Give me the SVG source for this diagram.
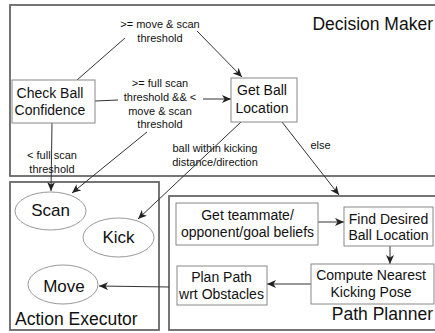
<svg xmlns="http://www.w3.org/2000/svg" width="435" height="333" viewBox="0 0 435 333">
<style>
.frame{fill:none;stroke:#666;stroke-width:1.8}
.box{fill:#fff;stroke:#888;stroke-width:1}
.ell{fill:#fff;stroke:#999;stroke-width:1}
.t{font-family:"Liberation Sans",Arial,sans-serif;fill:#111}
.node{font-size:14px;text-anchor:middle}
.act{font-size:17px;text-anchor:middle}
.title{font-size:17.5px}
.lbl{font-size:11px;text-anchor:middle}
.c{fill:none;stroke:#333;stroke-width:1}
</style>
<defs>
<marker id="ah" markerUnits="userSpaceOnUse" markerWidth="10" markerHeight="8" refX="9" refY="4" orient="auto">
<path d="M0,0 L9,4 L0,8 L2.5,4 z" fill="#222"/>
</marker>
</defs>
<rect width="435" height="333" fill="#fff"/>
<g id="decision-maker">
<rect class="frame" x="10" y="5" width="440" height="171"/>
<text class="t title" x="433" y="30" text-anchor="end">Decision Maker</text>
</g>
<g id="action-executor">
<rect class="frame" x="10" y="182" width="149" height="148"/>
<text class="t title" x="15" y="325">Action Executor</text>
</g>
<g id="path-planner">
<rect class="frame" x="169" y="196" width="280" height="134"/>
<text class="t title" x="433" y="320" text-anchor="end">Path Planner</text>
</g>
<g id="connectors">
<line class="c" x1="77" y1="80" x2="125" y2="38"/>
<line class="c" x1="197" y1="31" x2="242" y2="77" marker-end="url(#ah)"/>
<line class="c" x1="95" y1="101" x2="118" y2="100"/>
<line class="c" x1="203" y1="99" x2="231" y2="99" marker-end="url(#ah)"/>
<line class="c" x1="147" y1="132" x2="72" y2="193" marker-end="url(#ah)"/>
<line class="c" x1="52" y1="123" x2="51" y2="191" marker-end="url(#ah)"/>
<line class="c" x1="241" y1="122" x2="138" y2="219" marker-end="url(#ah)"/>
<line class="c" x1="282" y1="122" x2="339" y2="195" marker-end="url(#ah)"/>
<line class="c" x1="318" y1="222" x2="344" y2="222" marker-end="url(#ah)"/>
<line class="c" x1="390" y1="246" x2="390" y2="264" marker-end="url(#ah)"/>
<line class="c" x1="311" y1="284" x2="267" y2="284" marker-end="url(#ah)"/>
<line class="c" x1="169" y1="287" x2="99" y2="286" marker-end="url(#ah)"/>
</g>
<g id="labels">
<text class="t lbl"><tspan x="160" y="28">&gt;= move &amp; scan</tspan><tspan x="160" y="41.5">threshold</tspan></text>
<text class="t lbl"><tspan x="160" y="87">&gt;= full scan</tspan><tspan x="160" y="100.5">threshold &amp;&amp; &lt;</tspan><tspan x="160" y="114.5">move &amp; scan</tspan><tspan x="160" y="128">threshold</tspan></text>
<text class="t lbl"><tspan x="52" y="159">&lt; full scan</tspan><tspan x="52" y="173">threshold</tspan></text>
<text class="t lbl"><tspan x="215" y="151.5">ball within kicking</tspan><tspan x="215" y="166">distance/direction</tspan></text>
<text class="t lbl" x="320.5" y="149">else</text>
</g>
<g id="check-ball-confidence">
<rect class="box" x="12" y="80" width="83" height="43"/>
<text class="t node"><tspan x="50" y="98">Check Ball</tspan><tspan x="50" y="115">Confidence</tspan></text>
</g>
<g id="get-ball-location">
<rect class="box" x="231" y="78" width="66" height="44"/>
<text class="t node"><tspan x="262" y="95">Get Ball</tspan><tspan x="262" y="112.5">Location</tspan></text>
</g>
<g id="scan">
<ellipse class="ell" cx="50.5" cy="211" rx="35.5" ry="19"/>
<text class="t act" x="50.5" y="216">Scan</text>
</g>
<g id="kick">
<ellipse class="ell" cx="118.5" cy="237.5" rx="35.5" ry="19.5"/>
<text class="t act" x="118.5" y="243">Kick</text>
</g>
<g id="move">
<ellipse class="ell" cx="63" cy="284.5" rx="35" ry="19.5"/>
<text class="t act" x="64" y="291.5">Move</text>
</g>
<g id="get-beliefs">
<rect class="box" x="176" y="203" width="142" height="42"/>
<text class="t node"><tspan x="247.5" y="219.5">Get teammate/</tspan><tspan x="247.5" y="236.5">opponent/goal beliefs</tspan></text>
</g>
<g id="find-desired-ball-location">
<rect class="box" x="344" y="207" width="89" height="39"/>
<text class="t node"><tspan x="388.5" y="223.5">Find Desired</tspan><tspan x="388.5" y="239.5">Ball Location</tspan></text>
</g>
<g id="compute-kicking-pose">
<rect class="box" x="311" y="264" width="123" height="40"/>
<text class="t node"><tspan x="371" y="279.5">Compute Nearest</tspan><tspan x="371" y="296.5">Kicking Pose</tspan></text>
</g>
<g id="plan-path">
<rect class="box" x="177" y="266" width="90" height="39"/>
<text class="t node"><tspan x="221.5" y="281.5">Plan Path</tspan><tspan x="221.5" y="299">wrt Obstacles</tspan></text>
</g>
</svg>
